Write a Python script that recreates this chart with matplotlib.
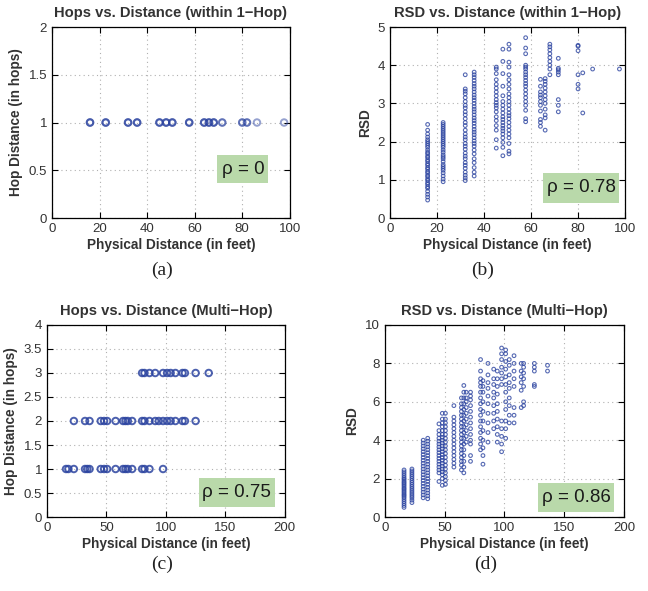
import matplotlib
matplotlib.use('Agg')
import matplotlib.pyplot as plt
from matplotlib.patches import Rectangle

plt.rcParams['font.family'] = ['Liberation Sans', 'DejaVu Sans']

# (a) hops within 1-hop: distance and how many overlapping pairs
a_dist = [16, 22.6, 32, 35.8, 45.2, 48, 50.6, 57.7, 64, 66, 68, 71.6, 80, 82, 86.2, 97.6]
a_count = [3, 3, 3, 3, 3, 3, 3, 3, 3, 3, 3, 2, 2, 2, 1, 1]

# (b) RSD within 1-hop, per distance column
b_cols = {
    16: [0.47, 0.55, 0.62, 0.7, 0.78, 0.82, 0.88, 0.92, 0.98, 1.02, 1.08, 1.12, 1.18, 1.22, 1.28, 1.32, 1.38,
         1.42, 1.48, 1.52, 1.58, 1.62, 1.68, 1.72, 1.78, 1.85, 1.9, 1.95, 2.0, 2.05, 2.12, 2.2, 2.3, 2.45],
    22.6: [0.95, 1.02, 1.1, 1.18, 1.25, 1.3, 1.35, 1.4, 1.48, 1.55, 1.6, 1.65, 1.72, 1.78, 1.85, 1.9, 1.95,
           2.0, 2.05, 2.1, 2.15, 2.2, 2.25, 2.3, 2.35, 2.4, 2.45, 2.5],
    32: [0.98, 1.05, 1.12, 1.2, 1.3, 1.38, 1.45, 1.55, 1.62, 1.7, 1.8, 1.88, 1.95, 2.05, 2.12, 2.2, 2.3, 2.42,
         2.5, 2.6, 2.7, 2.78, 2.88, 2.95, 3.05, 3.15, 3.25, 3.32, 3.38, 3.75],
    35.8: [1.1, 1.2, 1.32, 1.45, 1.55, 1.68, 1.78, 1.88, 1.95, 2.02, 2.1, 2.18, 2.25, 2.32, 2.4, 2.48, 2.55,
           2.62, 2.7, 2.78, 2.85, 2.92, 3.0, 3.08, 3.15, 3.22, 3.3, 3.38, 3.45, 3.52, 3.6, 3.68, 3.75, 3.82],
    45.2: [1.83, 2.05, 2.3, 2.42, 2.55, 2.65, 2.78, 2.88, 2.95, 3.02, 3.1, 3.2, 3.3, 3.4, 3.5, 3.62, 3.78, 3.9, 3.95],
    48: [1.63, 1.85, 1.98, 2.1, 2.2, 2.28, 2.35, 2.42, 2.5, 2.58, 2.65, 2.75, 2.85, 2.95, 3.05, 3.2, 3.45, 3.78,
         4.1, 4.42],
    50.6: [1.68, 1.75, 1.95, 2.1, 2.2, 2.3, 2.4, 2.5, 2.6, 2.68, 2.75, 2.85, 2.95, 3.05, 3.15, 3.25, 3.38, 3.5,
           3.62, 3.75, 3.95, 4.08, 4.42, 4.55],
    57.7: [2.52, 2.6, 2.82, 2.95, 3.05, 3.15, 3.25, 3.35, 3.45, 3.52, 3.6, 3.68, 3.75, 3.82, 3.9, 3.95, 4.0,
           4.3, 4.45, 4.72],
    64: [2.4, 2.5, 2.58, 2.8, 2.95, 3.05, 3.15, 3.22, 3.3, 3.45, 3.63],
    66: [2.3, 2.62, 2.7, 2.85, 3.0, 3.1, 3.2, 3.3, 3.4, 3.5, 3.58, 3.65],
    68: [3.75, 3.9, 4.0, 4.1, 4.2, 4.3, 4.4, 4.48, 4.55],
    71.6: [2.78, 2.95, 3.1, 3.75, 3.82, 3.88, 3.92, 4.18],
    80: [3.38, 3.5, 3.75, 4.38, 4.5, 4.52],
    82: [2.75, 3.8],
    86.2: [3.9],
    97.6: [3.9],
}

# (c) hops multi-hop: distances at each hop count
c_hop1 = [16, 18, 22.6, 32, 33.9, 35.8, 45.2, 48, 50.6, 57.7, 64, 66, 68, 71.6, 80, 82, 86.2, 97.6]
c_hop2 = [22.6, 32, 35.8, 45.2, 48, 50.6, 57.7, 64, 66, 68, 71.6, 80, 82, 86.2, 91, 94, 97.6, 101, 104,
          108, 114, 116, 125]
c_hop3 = [80, 82, 86.2, 91, 97.6, 101, 104, 108, 114, 116, 125, 136]

# (d) RSD multi-hop, per distance column
d_cols = {
    16: [0.5, 0.6, 0.7, 0.8, 0.9, 1.0, 1.08, 1.15, 1.22, 1.3, 1.38, 1.45, 1.52, 1.6, 1.68, 1.75, 1.82, 1.9,
         1.98, 2.05, 2.15, 2.25, 2.35, 2.45],
    22.6: [0.75, 0.88, 1.0, 1.1, 1.2, 1.3, 1.4, 1.5, 1.6, 1.7, 1.8, 1.9, 2.0, 2.1, 2.2, 2.3, 2.4, 2.5],
    32: [1.0, 1.15, 1.3, 1.45, 1.6, 1.75, 1.9, 2.05, 2.2, 2.35, 2.5, 2.65, 2.8, 2.95, 3.1, 3.25, 3.4, 3.55,
         3.7, 3.85, 4.0],
    35.8: [0.95, 1.1, 1.25, 1.4, 1.55, 1.7, 1.85, 2.0, 2.15, 2.3, 2.45, 2.6, 2.75, 2.9, 3.05, 3.2, 3.35, 3.5,
           3.65, 3.8, 3.95, 4.1],
    45.2: [1.85, 2.3, 2.45, 2.6, 2.75, 2.9, 3.05, 3.2, 3.35, 3.5, 3.65, 3.8, 3.95, 4.1, 4.3, 4.5, 4.85],
    48: [1.65, 2.0, 2.2, 2.35, 2.5, 2.65, 2.8, 2.95, 3.1, 3.25, 3.4, 3.55, 3.7, 3.85, 4.0, 4.15, 4.3, 4.5,
         4.7, 4.9, 5.1, 5.4],
    50.6: [1.7, 1.9, 2.1, 2.3, 2.5, 2.7, 2.9, 3.1, 3.3, 3.5, 3.7, 3.9, 4.1, 4.3, 4.5, 4.7, 4.9, 5.1, 5.4],
    57.7: [2.6, 2.8, 3.0, 3.2, 3.4, 3.6, 3.8, 4.0, 4.2, 4.4, 4.6, 4.8, 5.0, 5.2, 5.8],
    64: [2.45, 2.7, 2.9, 3.1, 3.3, 3.5, 3.7, 3.9, 4.1, 4.3, 4.5, 4.7, 4.9, 5.1, 5.3, 5.5, 5.7, 5.9, 6.2],
    66: [2.3, 2.6, 2.9, 3.2, 3.5, 3.8, 4.1, 4.4, 4.7, 5.0, 5.3, 5.6, 5.9, 6.2, 6.5, 6.85],
    68: [3.9, 4.2, 4.5, 4.8, 5.1, 5.4, 5.7, 6.0, 6.2, 6.5],
    71.6: [2.9, 3.2, 3.8, 4.0, 4.3, 4.6, 4.9, 5.2, 5.5, 5.8, 6.1, 6.3, 6.5],
    80: [3.5, 3.8, 4.1, 4.4, 4.7, 5.0, 5.3, 5.6, 5.9, 6.2, 6.5, 6.8, 7.0, 7.2, 7.6, 8.2],
    82: [2.75, 3.2, 3.6, 4.0, 4.5, 5.0, 5.5, 6.0, 6.5, 6.8, 7.1],
    86.2: [3.9, 4.4, 4.9, 5.4, 5.9, 6.3, 6.7, 7.0, 7.4, 8.0],
    91: [4.6, 5.0, 5.4, 5.8, 6.2, 6.5, 6.9, 7.2, 7.7],
    94: [3.9, 4.3, 4.7, 5.1, 5.5, 5.9, 6.4, 6.8, 7.2, 7.6],
    97.6: [3.4, 3.8, 4.2, 4.6, 5.0, 6.9, 7.2, 7.5, 7.8, 8.2, 8.5, 8.8],
    101: [4.1, 4.6, 5.0, 5.6, 6.0, 6.5, 6.9, 7.3, 7.7, 8.1, 8.5, 8.7],
    104: [4.9, 5.3, 5.8, 6.2, 6.7, 7.0, 7.4, 7.9, 8.2],
    108: [4.9, 5.3, 5.7, 6.8, 7.2, 7.6, 8.0, 8.4],
    114: [5.7, 6.6, 7.0, 7.3, 7.6, 8.0],
    116: [5.8, 6.0, 6.8, 7.2, 7.5, 7.8, 8.0],
    125: [6.8, 6.9, 7.6, 7.8, 8.0],
    136: [7.6, 7.9],
}

BLUE = '#2c44a0'
TXT = '#333333'
GREEN = '#b9d9aa'


def flatten(cols):
    xs, ys = [], []
    for d, vals in cols.items():
        xs += [d] * len(vals)
        ys += vals
    return xs, ys


def style(ax, title, ylabel, xlim, ylim, xticks, yticks):
    ax.set_xlim(xlim)
    ax.set_ylim(ylim)
    ax.set_xticks(xticks)
    ax.set_yticks(yticks)
    ax.set_yticklabels(['%g' % v for v in yticks])
    ax.tick_params(direction='in', top=True, right=True, labelsize=9.5, colors='black',
                   labelcolor=TXT, length=4, width=0.8)
    ax.grid(True, linestyle=(0, (1, 3)), color='#b0b0b0', linewidth=0.8)
    ax.set_axisbelow(True)
    for s in ax.spines.values():
        s.set_linewidth(0.9)
    ax.set_title(title, fontsize=10.6, fontweight='bold', color=TXT, pad=7)
    ax.set_xlabel('Physical Distance (in feet)', fontsize=9.8, fontweight='bold', color=TXT, labelpad=2)
    ax.set_ylabel(ylabel, fontsize=9.8, fontweight='bold', color=TXT, labelpad=4)


def rho_box(ax, box, label):
    x0, y0, x1, y1 = box
    ax.add_patch(Rectangle((x0, y0), x1 - x0, y1 - y0, transform=ax.transAxes,
                           facecolor=GREEN, edgecolor='none', zorder=4))
    ax.text(x1 - 0.015, (y0 + y1) / 2, label, transform=ax.transAxes, ha='right', va='center',
            fontsize=13.5, color='#1a1a1a', zorder=5)


fig = plt.figure(figsize=(6.48, 5.91), dpi=100)

# (a)
ax = fig.add_axes([0.0802, 0.6311, 0.367, 0.3232])
for d, n in zip(a_dist, a_count):
    for k in range(n):
        ax.scatter(d, 1, s=22, facecolors='none', edgecolors=BLUE, linewidths=1.4, alpha=0.5, zorder=3)
style(ax, 'Hops vs. Distance (within 1\u2212Hop)', 'Hop Distance (in hops)', (0, 100), (0, 2),
      [0, 20, 40, 60, 80, 100], [0, 0.5, 1, 1.5, 2])
rho_box(ax, (0.693, 0.183, 0.908, 0.33), '\u03c1 = 0')

# (b)
ax = fig.add_axes([0.6019, 0.6311, 0.3627, 0.3232])
bx, by = flatten(b_cols)
ax.scatter(bx, by, s=7, facecolors='none', edgecolors=BLUE, linewidths=0.8, alpha=0.8, zorder=3)
style(ax, 'RSD vs. Distance (within 1\u2212Hop)', 'RSD', (0, 100), (0, 5),
      [0, 20, 40, 60, 80, 100], [0, 1, 2, 3, 4, 5])
rho_box(ax, (0.651, 0.079, 0.974, 0.236), '\u03c1 = 0.78')

# (c)
ax = fig.add_axes([0.0725, 0.1252, 0.367, 0.3249])
for hop, ds in [(1, c_hop1), (2, c_hop2), (3, c_hop3)]:
    ax.scatter(ds, [hop] * len(ds), s=22, facecolors='none', edgecolors=BLUE, linewidths=1.4,
               alpha=0.85, zorder=3)
style(ax, 'Hops vs. Distance (Multi\u2212Hop)', 'Hop Distance (in hops)', (0, 200), (0, 4),
      [0, 50, 100, 150, 200], [0, 0.5, 1, 1.5, 2, 2.5, 3, 3.5, 4])
rho_box(ax, (0.639, 0.052, 0.958, 0.203), '\u03c1 = 0.75')

# (d)
ax = fig.add_axes([0.594, 0.1252, 0.369, 0.3249])
dx, dy = flatten(d_cols)
ax.scatter(dx, dy, s=7, facecolors='none', edgecolors=BLUE, linewidths=0.8, alpha=0.8, zorder=3)
style(ax, 'RSD vs. Distance (Multi\u2212Hop)', 'RSD', (0, 200), (0, 10),
      [0, 50, 100, 150, 200], [0, 2, 4, 6, 8, 10])
rho_box(ax, (0.64, 0.026, 0.958, 0.177), '\u03c1 = 0.86')

# sub-figure captions
for x, y, t in [(0.25, 0.543, '(a)'), (0.745, 0.543, '(b)'), (0.25, 0.045, '(c)'), (0.75, 0.045, '(d)')]:
    fig.text(x, y, t, ha='center', va='center', fontsize=14, family='Liberation Serif', color='#222222')

fig.savefig('out.png', dpi=100)
